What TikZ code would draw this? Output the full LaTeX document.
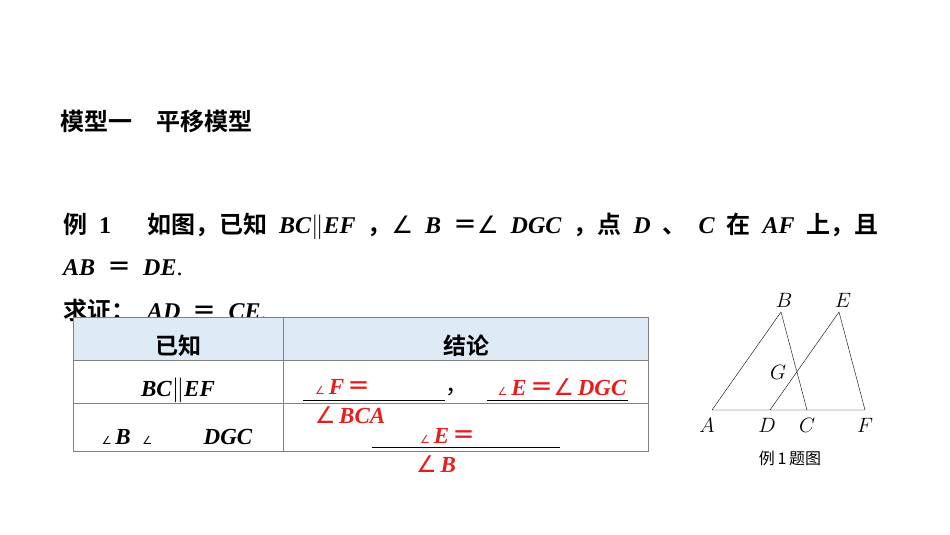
\documentclass[tikz,border=0pt]{standalone}
\usepackage{fontspec}
\setmainfont{Liberation Serif}
\newfontfamily\cjk{Noto Sans CJK SC}
\newfontfamily\cjkb{Noto Sans CJK SC Bold}
\newfontfamily\symf{DejaVu Sans}
\newcommand{\bi}[1]{{\rmfamily\bfseries\itshape #1}}
\newcommand{\ang}{{\symf ∠}}
\newcommand{\sang}{{\symf\fontsize{11}{11}\selectfont ∠}}
\newcommand{\eqs}{{\cjkb ＝}}
\definecolor{hdblue}{RGB}{222,234,246}
\definecolor{ansred}{RGB}{230,30,30}
\begin{document}
\begin{tikzpicture}
[x=1pt,y=-1pt,
every node/.style={inner sep=0pt},
txt/.style={anchor=west,font=\fontsize{24}{24}\selectfont},
cell/.style={font=\fontsize{23}{23}\selectfont},
ans/.style={font=\fontsize{23}{23}\selectfont\color{ansred}},
uline/.style={draw=black,line width=0.8pt},
pt/.style={font=\fontsize{20}{20}\selectfont}
]
\useasboundingbox (0,0) rectangle (950,535);
% headings
\node[txt] (title) at (60,121) {\cjkb 模型一\quad 平移模型};
\node[txt] (ex1) at (63,226) {{\cjkb 例}\enspace{\rmfamily\bfseries 1}\quad\enspace{\cjkb 如图，已知}\enspace\bi{BC}$\|$\bi{EF}\enspace{\cjkb ，}\ang\enspace\bi{B}\enspace\eqs\ang\enspace\bi{DGC}\enspace{\cjkb ，点}\enspace\bi{D}\enspace{\cjkb 、}\enspace\bi{C}\enspace{\cjkb 在}\enspace\bi{AF}\enspace{\cjkb 上，且}};
\node[txt] (ex2) at (63,268) {\bi{AB}\enspace\eqs\enspace\bi{DE}.};
\node[txt] (ex3) at (63,310) {{\cjkb 求证：}\enspace\bi{AD}\enspace\eqs\enspace\bi{CE}.};
% table
\fill[hdblue] (73,317) rectangle (648,360);
\draw[gray] (73,317) rectangle (648,451);
\draw[gray] (73,360) -- (648,360) (73,403) -- (648,403) (283,317) -- (283,451);
\node[cell] (hk) at (178,346) {\cjkb 已知};
\node[cell] (hc) at (466,346) {\cjkb 结论};
\node[cell] (k1) at (178,390) {\bi{BC}$\|$\bi{EF}};
\node[cell] (k2a) at (127,437) {\sang\,\bi{B}\enspace\sang};
\node[cell] (k2b) at (228,437) {\bi{DGC}};
% answers
\node[ans] (a1) at (343,387) {\sang\,\bi{F}\,\eqs};
\draw[uline] (303,400) -- (445,400);
\node[cell] (cm) at (457,392) {\cjk ，};
\node[ans] (a2) at (562,387) {\sang\,\bi{E}\,\eqs\ang\,\bi{DGC}};
\draw[uline] (487,400) -- (628,400);
\node[ans] (a3) at (350,415) {\ang\,\bi{BCA}};
\node[ans] (a4) at (448,436) {\sang\,\bi{E}\,\eqs};
\draw[uline] (372,447) -- (560,447);
\node[ans] (a5) at (436,464) {\ang\,\bi{B}};
% figure
\coordinate (A) at (712,410);
\coordinate (B) at (781,312);
\coordinate (C) at (807,410);
\coordinate (D) at (770,410);
\coordinate (E) at (839,312);
\coordinate (F) at (865,410);
\draw[thin] (A) -- (B) -- (C) (D) -- (E) -- (F) -- (A);
\node[pt] (lA) at (707,425) {$A$};
\node[pt] (lB) at (784,300) {$B$};
\node[pt] (lC) at (807,425) {$C$};
\node[pt] (lD) at (767,425) {$D$};
\node[pt] (lE) at (843,300) {$E$};
\node[pt] (lF) at (865,425) {$F$};
\node[pt] (lG) at (778,372) {$G$};
\node[font=\fontsize{16}{16}\selectfont] (cap) at (790,458) {\cjk 例\,1\,题图};
\end{tikzpicture}
\end{document}
